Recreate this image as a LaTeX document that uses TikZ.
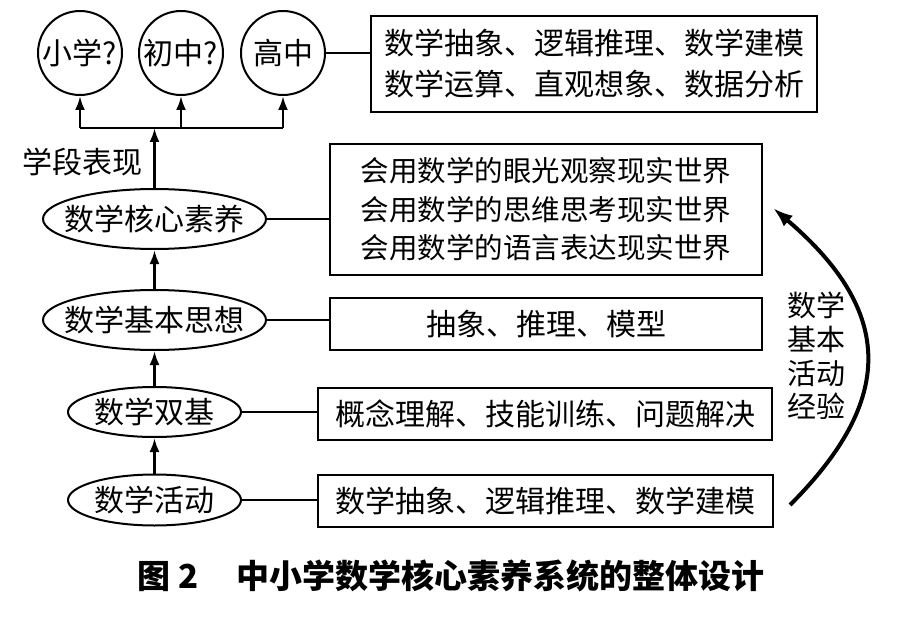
\documentclass[tikz,border=0pt]{standalone}
\usepackage{fontspec}
\setmainfont{Noto Sans CJK SC}
\usetikzlibrary{shapes.geometric,arrows.meta}
\newcommand{\nar}[1]{\makebox[0pt]{#1}}
\begin{document}
\begin{tikzpicture}[x=0.5pt,y=-0.5pt,
    font=\fontsize{15}{20.5}\selectfont,
    stage/.style={draw,circle,line width=1pt,minimum size=42pt,inner sep=0pt},
    level/.style={draw,ellipse,line width=1pt,inner sep=0pt},
    item/.style={draw,rectangle,line width=1.4pt,inner sep=0pt,align=center},
    link/.style={line width=1pt},
    up/.style={-{Latex[length=7pt,width=5pt]},line width=1.3pt}]
  \useasboundingbox (0,0) rectangle (909,620);
  \draw
    (80,53) node[stage] (xx){小学?}
    (181,53) node[stage] (cz){初中?}
    (283,53) node[stage] (gz){高中}
    (154.5,219) node[level,minimum width=111.5pt,minimum height=30pt] (hx){\nar{数学核心素养}}
    (154.5,320) node[level,minimum width=111.5pt,minimum height=30pt] (sx){\nar{数学基本思想}}
    (154.5,412) node[level,minimum width=86.5pt,minimum height=25pt] (sj){\nar{数学双基}}
    (154.5,500) node[level,minimum width=86.5pt,minimum height=25.5pt] (hd){\nar{数学活动}};
  \draw
    (594,64) node[item,minimum width=223pt,minimum height=48pt] (gzb){数学抽象、逻辑推理、数学建模\\数学运算、直观想象、数据分析}
    (546,209.5) node[item,minimum width=216pt,minimum height=65.5pt,
      font=\fontsize{14.25}{19.25}\selectfont] (hxb){会用数学的眼光观察现实世界\\会用数学的思维思考现实世界\\会用数学的语言表达现实世界}
    (546,324) node[item,minimum width=216pt,minimum height=26pt] (sxb){抽象、推理、模型}
    (545,414) node[item,minimum width=227pt,minimum height=26pt] (sjb){概念理解、技能训练、问题解决}
    (545.5,501) node[item,minimum width=227.5pt,minimum height=26pt] (hdb){数学抽象、逻辑推理、数学建模};
  \node (xd) at (82,162) {学段表现};
  \node[align=center,font=\fontsize{14.5}{16.8}\selectfont] (jy) at (816,356) {数学\\基本\\活动\\经验};
  \node[anchor=west,font=\fontsize{16.5}{16.5}\selectfont\bfseries] (tt) at (130,576)
    {图\hspace{4pt}2\hspace{19pt}中小学数学核心素养系统的整体设计};
  \coordinate (bus) at (154.5,128);
  \coordinate (s) at (790,505);
  \coordinate (e) at (773,208);
  % branches to the three stages
  \draw[line width=1.3pt] (xx.south |- bus) to (gz.south |- bus);
  \begin{scope}[up]
    \draw (hx) to (bus);
    \draw (xx.south |- bus) to (xx);
    \draw (cz.south |- bus) to (cz);
    \draw (gz.south |- bus) to (gz);
    \draw (hd) to (sj);
    \draw (sj) to (sx);
    \draw (sx) to (hx);
  \end{scope}
  \begin{scope}[link]
    \draw (gz.east) to (gz.east -| gzb.west);
    \draw (hx.east) to (hx.east -| hxb.west);
    \draw (sx.east) to (sx.east -| sxb.west);
    \draw (sj.east) to (sj.east -| sjb.west);
    \draw (hd.east) to (hd.east -| hdb.west);
  \end{scope}
  \draw[-{Latex[length=10pt,width=7pt]},line width=2pt] (s) .. controls (895,400) and (895,312) .. (e);
\end{tikzpicture}
\end{document}
